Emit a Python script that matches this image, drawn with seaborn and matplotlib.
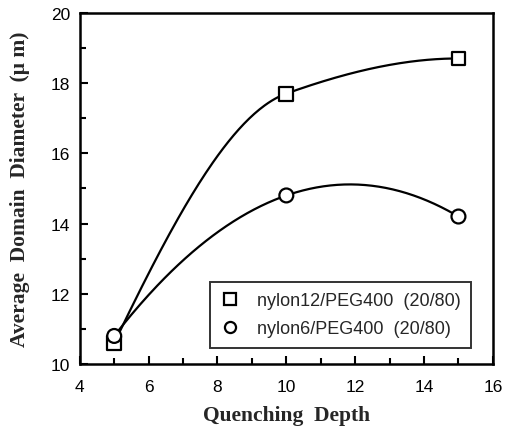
import matplotlib
matplotlib.use("Agg")
import matplotlib.pyplot as plt
from matplotlib.lines import Line2D
from matplotlib.ticker import MultipleLocator
import numpy as np
import pandas as pd
import seaborn as sns

# Data
depth = [5, 10, 15]
nylon12 = [10.6, 17.7, 18.7]
nylon6 = [10.8, 14.8, 14.2]
label12 = "nylon12/PEG400  (20/80)"
label6 = "nylon6/PEG400  (20/80)"


def pchip(x, y, xs):
    # monotone cubic through the points (hand rolled, no scipy)
    x = np.asarray(x, float)
    y = np.asarray(y, float)
    h = np.diff(x)
    d = np.diff(y) / h
    m = np.zeros_like(y)
    for k in range(1, len(x) - 1):
        if d[k - 1] * d[k] > 0:
            w1 = 2 * h[k] + h[k - 1]
            w2 = h[k] + 2 * h[k - 1]
            m[k] = (w1 + w2) / (w1 / d[k - 1] + w2 / d[k])
    m[0] = ((2 * h[0] + h[1]) * d[0] - h[0] * d[1]) / (h[0] + h[1])
    m[-1] = ((2 * h[-1] + h[-2]) * d[-1] - h[-1] * d[-2]) / (h[-1] + h[-2])
    if m[0] * d[0] <= 0:
        m[0] = 0
    if m[-1] * d[-1] <= 0:
        m[-1] = 0
    out = []
    for v in xs:
        k = min(np.searchsorted(x, v, side="right") - 1, len(x) - 2)
        t = (v - x[k]) / h[k]
        out.append((2 * t**3 - 3 * t**2 + 1) * y[k] + (t**3 - 2 * t**2 + t) * h[k] * m[k]
                   + (-2 * t**3 + 3 * t**2) * y[k + 1] + (t**3 - t**2) * h[k] * m[k + 1])
    return np.array(out)


xs = np.linspace(depth[0], depth[-1], 200)
curve12 = pchip(depth, nylon12, xs)
curve6 = np.polyval(np.polyfit(depth, nylon6, 2), xs)

sns.set_style("ticks")
plt.rcParams["font.family"] = ["Liberation Sans", "DejaVu Sans"]

fig = plt.figure(figsize=(5.05, 4.31), dpi=100)
ax = fig.add_axes([0.158, 0.153, 0.818, 0.815])

sns.lineplot(x=xs, y=curve12, ax=ax, color="black", linewidth=1.6, estimator=None, sort=False)
sns.lineplot(x=xs, y=curve6, ax=ax, color="black", linewidth=1.6, estimator=None, sort=False)

df = pd.DataFrame({"x": depth + depth,
                   "y": nylon12 + nylon6,
                   "s": [label12] * 3 + [label6] * 3})
sns.scatterplot(data=df, x="x", y="y", style="s", markers={label12: "s", label6: "o"},
                s=100, facecolor="white", edgecolor="black", linewidth=1.6,
                ax=ax, legend=False, zorder=5)

ax.set_xlim(4, 16)
ax.set_ylim(10, 20)
ax.xaxis.set_major_locator(MultipleLocator(2))
ax.xaxis.set_minor_locator(MultipleLocator(1))
ax.yaxis.set_major_locator(MultipleLocator(2))
ax.yaxis.set_minor_locator(MultipleLocator(1))
ax.tick_params(which="both", direction="in", width=1.5, labelsize=12.5, colors="black")
ax.tick_params(which="major", length=6)
ax.tick_params(which="minor", length=4)
ax.tick_params(axis="x", which="major", pad=11)
ax.tick_params(axis="y", which="major", pad=7)
for sp in ax.spines.values():
    sp.set_linewidth(1.8)
    sp.set_color("black")

serif = ["Liberation Serif", "DejaVu Serif"]
ax.set_xlabel("Quenching  Depth", family=serif, fontweight="bold", fontsize=15.5, labelpad=8)
ax.set_ylabel("Average  Domain  Diameter  (\u03bc m)", family=serif, fontweight="bold",
              fontsize=15.5, labelpad=15)

handles = [
    Line2D([], [], linestyle="none", marker="s", markersize=8, markerfacecolor="white",
           markeredgecolor="black", markeredgewidth=1.6, label=label12),
    Line2D([], [], linestyle="none", marker="o", markersize=8, markerfacecolor="white",
           markeredgecolor="black", markeredgewidth=1.6, label=label6),
]
leg = ax.legend(handles=handles, loc="lower right", bbox_to_anchor=(0.97, 0.02),
                fontsize=13, frameon=True, fancybox=False, edgecolor="black",
                handletextpad=1.0, borderpad=0.6, labelspacing=0.6, handlelength=1.0)
leg.get_frame().set_linewidth(1.4)

fig.savefig("out.png", dpi=100)
